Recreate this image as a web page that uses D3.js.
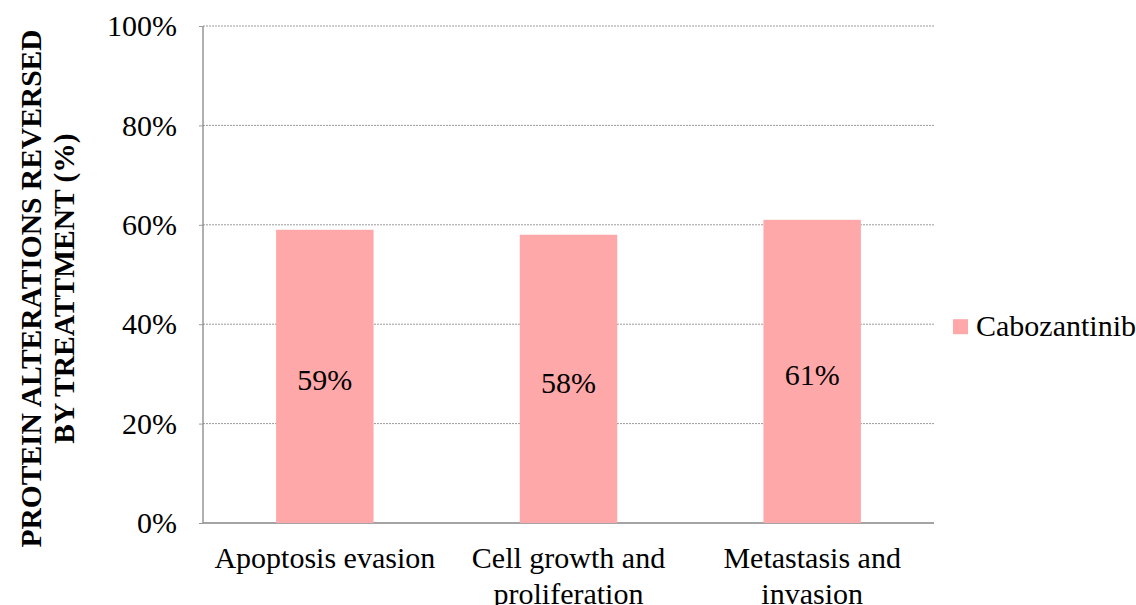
<!DOCTYPE html>
<html>
<head>
<meta charset="utf-8">
<script src="https://cdn.jsdelivr.net/npm/d3@7"></script>
<style>
  body { margin: 0; background: #fff; }
</style>
</head>
<body>
<div class="chart"></div>
<script>
// data
const categories = [["Apoptosis evasion"], ["Cell growth and", "proliferation"], ["Metastasis and", "invasion"]];
const values = [59, 58, 61];
const yTicks = [0, 20, 40, 60, 80, 100];
const seriesName = "Cabozantinib";

const FONT = '"Liberation Serif"';

const margin = {top: 26, right: 202, bottom: 82, left: 203},
    width = 1136 - margin.left - margin.right,
    height = 605 - margin.top - margin.bottom;

const svg = d3.select(".chart")
  .append("svg")
    .attr("width", 1136)
    .attr("height", 605)
    .style("font-family", FONT)
  .append("g")
    .attr("transform", `translate(${margin.left},${margin.top})`);

const x = d3.scaleBand()
  .range([0, width])
  .domain(d3.range(categories.length))
  .padding(0);

const y = d3.scaleLinear()
  .domain([0, 100])
  .range([height, 0]);

// gridlines
svg.append("g")
  .selectAll("line")
  .data(yTicks.filter(d => d > 0))
  .join("line")
    .attr("x1", 0)
    .attr("x2", width)
    .attr("y1", d => y(d))
    .attr("y2", d => y(d))
    .attr("stroke", "#9a9a9a")
    .attr("stroke-width", 1)
    .attr("stroke-dasharray", "2,1");

// Y axis
const yAxis = svg.append("g")
  .call(d3.axisLeft(y).tickValues(yTicks).tickFormat(d => d + "%").tickSize(4).tickPadding(22));
yAxis.attr("font-family", null);
yAxis.select(".domain").attr("stroke", "#868686").attr("stroke-width", 1.3).attr("d", `M0,0V${height}`);
yAxis.selectAll(".tick line").attr("stroke", "#9a9a9a");
yAxis.selectAll("text").attr("fill", "#000")
  .style("font-family", FONT).style("font-size", "30px");

// X axis line
svg.append("line")
  .attr("x1", 0).attr("x2", width)
  .attr("y1", height).attr("y2", height)
  .attr("stroke", "#868686").attr("stroke-width", 1.3);

// bars
const barW = x.bandwidth() * 0.4;
svg.selectAll("mybar")
  .data(values)
  .join("rect")
    .attr("x", (d, i) => x(i) + x.bandwidth() / 2 - barW / 2)
    .attr("y", d => y(d))
    .attr("width", barW)
    .attr("height", d => height - y(d))
    .attr("fill", "#ffa8aa");

// value labels
svg.selectAll("label")
  .data(values)
  .join("text")
    .text(d => d + "%")
    .attr("text-anchor", "middle")
    .attr("x", (d, i) => x(i) + x.bandwidth() / 2)
    .attr("y", d => (y(d) + height) / 2 + 14)
    .style("font-family", FONT).style("font-size", "30px")
    .attr("fill", "#000");

// category labels
const xl = svg.append("g");
categories.forEach((lines, i) => {
  const t = xl.append("text")
    .attr("text-anchor", "middle")
    .attr("x", x(i) + x.bandwidth() / 2)
    .attr("y", height + 45)
    .style("font-family", FONT).style("font-size", "30px")
    .attr("fill", "#000");
  lines.forEach((l, j) => {
    t.append("tspan")
      .attr("x", x(i) + x.bandwidth() / 2)
      .attr("dy", j === 0 ? 0 : 36)
      .text(l);
  });
});

// y title
const yt = svg.append("text")
  .attr("transform", `translate(${-margin.left + 41},${height / 2 + 14}) rotate(-90)`)
  .attr("text-anchor", "middle")
  .style("font-family", FONT).style("font-size", "29.5px")
  .style("font-weight", "bold")
  .attr("fill", "#000");
yt.append("tspan").attr("x", 0).attr("dy", 0).text("PROTEIN ALTERATIONS REVERSED");
yt.append("tspan").attr("x", 0).attr("dy", 33).text("BY TREATTMENT (%)");

// legend
const lg = svg.append("g")
  .attr("transform", `translate(${width + 19},${y(40)})`);
lg.append("rect")
  .attr("x", 0).attr("y", -5)
  .attr("width", 15).attr("height", 15)
  .attr("fill", "#ffa8aa");
lg.append("text")
  .attr("x", 23).attr("y", 12)
  .style("font-family", FONT).style("font-size", "30px")
  .attr("fill", "#000")
  .text(seriesName);
</script>
</body>
</html>
